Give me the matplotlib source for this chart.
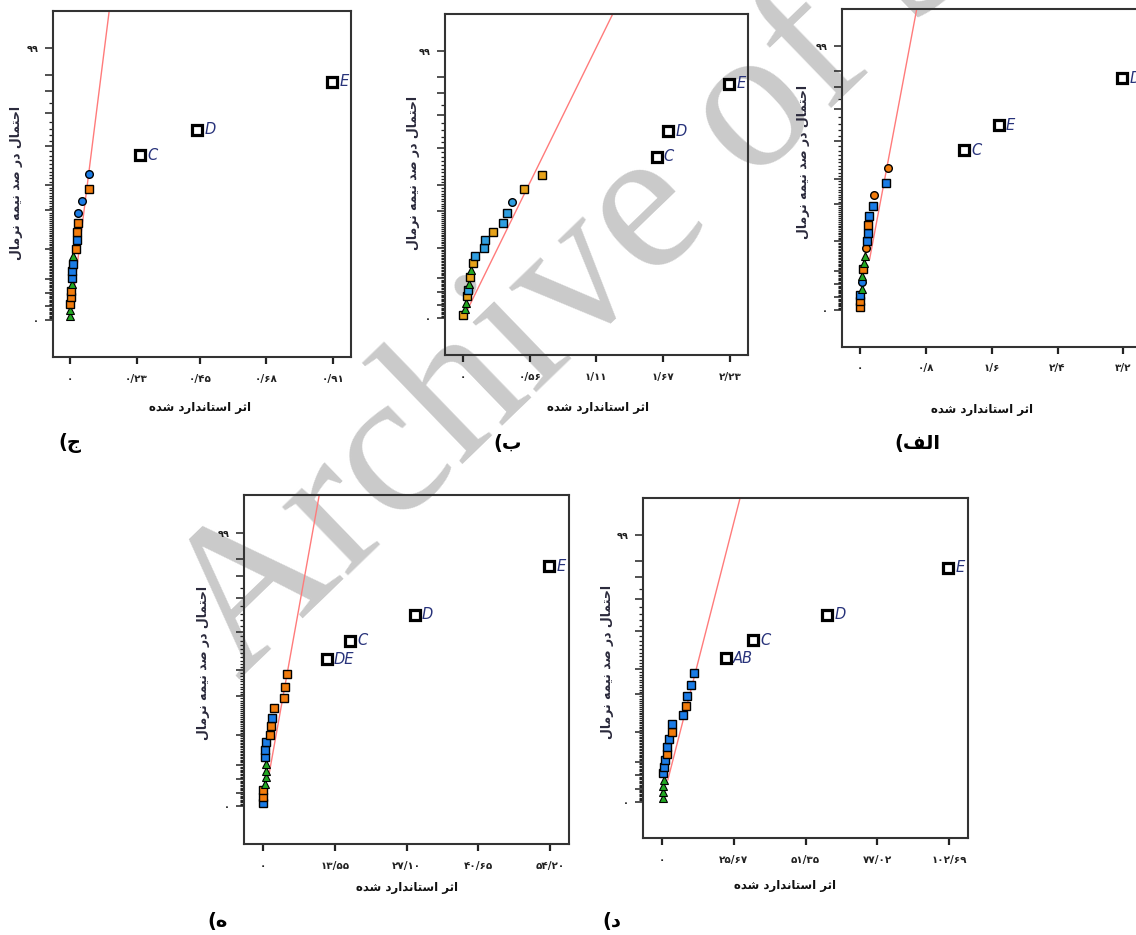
import matplotlib
matplotlib.use("Agg")
import matplotlib.pyplot as plt
from statistics import NormalDist

W, H = 1136, 935

# ---------------- داده‌ها (اثرها به ترتیب رتبه، از پایین به بالا) ----------------
# o: مربع نارنجی، b: مربع آبی، O: دایره نارنجی، B: دایره آبی، g: مثلث سبز، k: اثر معنی‌دار
alef_effects = [0.0, 0.0, 0.004, 0.02, 0.02, 0.03, 0.035, 0.053, 0.061, 0.073, 0.081,
                0.10, 0.101, 0.113, 0.154, 0.174, 0.316, 0.344, 1.268, 1.689, 3.187]
alef_kinds = "oobgBgoggObbobbObOkkk"
alef_names = ["C", "E", "D"]
alef_ticks = [0, 0.8, 1.6, 2.4, 3.2]
alef_ticklabels = ["0", "0/8", "1/6", "2/4", "3/2"]
alef_slope = 0.235

be_effects = [0.0, 0.014, 0.022, 0.033, 0.039, 0.05, 0.056, 0.061, 0.078, 0.095, 0.173,
              0.178, 0.251, 0.334, 0.362, 0.404, 0.507, 0.661, 1.617, 1.714, 2.224]
be_kinds = "oggobgogobbbobbBookkk"
be_names = ["C", "D", "E"]
be_ticks = [0, 0.56, 1.11, 1.67, 2.23]
be_ticklabels = ["0", "0/56", "1/11", "1/67", "2/23"]
be_slope = 0.426

jim_effects = [0.0, 0.0, 0.0, 0.002, 0.002, 0.005, 0.005, 0.007, 0.008, 0.010, 0.019,
               0.023, 0.023, 0.026, 0.026, 0.040, 0.065, 0.066, 0.242, 0.440, 0.908]
jim_kinds = "ggooogbbbgobooBBoBkkk"
jim_names = ["C", "D", "E"]
jim_ticks = [0, 0.23, 0.45, 0.68, 0.91]
jim_ticklabels = ["0", "0/23", "0/45", "0/68", "0/91"]
jim_slope = 0.046

he_effects = [0.0, 0.0, 0.0, 0.32, 0.44, 0.5, 0.5, 0.32, 0.38, 0.5, 1.26,
              1.39, 1.64, 2.02, 3.84, 4.10, 4.41, 11.97, 16.38, 28.67, 54.06]
he_kinds = "booggggbbboobooookkkk"
he_names = ["DE", "C", "D", "E"]
he_ticks = [0, 13.55, 27.10, 40.65, 54.20]
he_ticklabels = ["0", "13/55", "27/10", "40/65", "54/20"]
he_slope = 3.61

dal_effects = [0.1, 0.1, 0.36, 0.6, 0.4, 0.6, 0.96, 1.55, 1.79, 2.51, 3.3,
               3.3, 7.28, 8.36, 8.72, 10.15, 11.34, 22.8, 32.6, 59.1, 102.4]
dal_kinds = "ggggbbbobbobbobbbkkkk"
dal_names = ["AB", "C", "D", "E"]
dal_ticks = [0, 25.67, 51.35, 77.02, 102.69]
dal_ticklabels = ["0", "25/67", "51/35", "77/02", "102/69"]
dal_slope = 9.5

# درصدهای محور احتمال نیمه نرمال
major_pct = [0, 10, 20, 30, 50, 70, 80, 90, 95, 97, 98, 99]

# ---------------- شکل‌دهی متن فارسی (بدون کتابخانه جانبی) ----------------
FORMS = {
    "ا": ("\ufe8d", "\ufe8e", None, None),
    "ب": ("\ufe8f", "\ufe90", "\ufe91", "\ufe92"),
    "ت": ("\ufe95", "\ufe96", "\ufe97", "\ufe98"),
    "ث": ("\ufe99", "\ufe9a", "\ufe9b", "\ufe9c"),
    "ج": ("\ufe9d", "\ufe9e", "\ufe9f", "\ufea0"),
    "ح": ("\ufea1", "\ufea2", "\ufea3", "\ufea4"),
    "د": ("\ufea9", "\ufeaa", None, None),
    "ر": ("\ufead", "\ufeae", None, None),
    "س": ("\ufeb1", "\ufeb2", "\ufeb3", "\ufeb4"),
    "ش": ("\ufeb5", "\ufeb6", "\ufeb7", "\ufeb8"),
    "ص": ("\ufeb9", "\ufeba", "\ufebb", "\ufebc"),
    "ف": ("\ufed1", "\ufed2", "\ufed3", "\ufed4"),
    "ل": ("\ufedd", "\ufede", "\ufedf", "\ufee0"),
    "م": ("\ufee1", "\ufee2", "\ufee3", "\ufee4"),
    "ن": ("\ufee5", "\ufee6", "\ufee7", "\ufee8"),
    "ه": ("\ufee9", "\ufeea", "\ufeeb", "\ufeec"),
    "ی": ("\ufbfc", "\ufbfd", "\ufef3", "\ufef4"),
}


def shape_fa(text):
    out = []
    for i, ch in enumerate(text):
        if ch not in FORMS:
            out.append(ch)
            continue
        iso, fin, ini, med = FORMS[ch]
        prev = text[i - 1] if i > 0 else ""
        nxt = text[i + 1] if i + 1 < len(text) else ""
        jp = prev in FORMS and FORMS[prev][2] is not None
        jn = nxt in FORMS and ini is not None
        if jp and jn:
            out.append(med)
        elif jp:
            out.append(fin)
        elif jn:
            out.append(ini)
        else:
            out.append(iso)
    return "".join(reversed(out))


def fa_num(s):
    return s.translate(str.maketrans("0123456789", "۰۱۲۳۴۵۶۷۸۹"))


FA = ["DejaVu Sans"]
nd = NormalDist()


def hn(p):
    # موقعیت نیمه نرمال برای احتمال p (0..1)
    return nd.inv_cdf(0.5 + 0.5 * p)


def px(x, y):
    return x / W, 1 - y / H


fig = plt.figure(figsize=(W / 100, H / 100), dpi=100)
fig.patch.set_facecolor("white")

# واترمارک
fig.text(0.581, 0.781, "Archive of SID", rotation=44, rotation_mode="anchor",
         ha="center", va="center", fontsize=148, family="Liberation Serif",
         color="#cacaca", zorder=-5)


def draw_panel(box, xlim, effects, kinds, names, ticks, ticklabels, slope, z0,
               pal, xlab_pos, ylab_pos, tag_pos, tag):
    l, t, r, b = box
    ax = fig.add_axes([l / W, 1 - b / H, (r - l) / W, (b - t) / H])
    ax.set_facecolor("none")
    n = len(effects)
    z = [hn((i + 0.5) / n) for i in range(n)]

    ax.plot([slope * z0, slope * 3.5], [z0, 3.5], color="#ff7b7b", lw=1.0, zorder=1)

    k = 0
    for x, y, c in zip(effects, z, kinds):
        if c == "k":
            ax.plot(x, y, "s", ms=6.5, mfc="white", mec="black", mew=2.3, zorder=4)
            ax.annotate(names[k], (x, y), xytext=(5, 0), textcoords="offset points",
                        ha="left", va="center", fontsize=10.5, style="italic",
                        color="#27327a", annotation_clip=False)
            k += 1
        elif c == "g":
            ax.plot(x, y, "^", ms=6, mfc="#22a822", mec="black", mew=0.8, zorder=3)
        else:
            col = pal["o"] if c in "oO" else pal["b"]
            mk = "o" if c in "OB" else "s"
            ax.plot(x, y, mk, ms=5.5, mfc=col, mec="black", mew=1.0, zorder=3)

    ax.set_xlim(xlim)
    ax.set_ylim(-0.355, 2.93)
    ax.set_xticks(ticks)
    ax.set_xticklabels([fa_num(s) for s in ticklabels], fontsize=7.5,
                       fontweight="bold", family=FA)
    ax.set_yticks([hn(p / 100) for p in major_pct])
    ax.set_yticklabels([fa_num("0")] + [""] * (len(major_pct) - 2) + [fa_num("99")],
                       fontsize=7, fontweight="bold", family=FA)
    minor = [p for p in range(1, 97) if p not in major_pct]
    ax.set_yticks([hn(p / 100) for p in minor], minor=True)
    ax.tick_params(axis="x", direction="out", length=5, width=1.6, pad=7, colors="#222222")
    ax.tick_params(axis="y", which="major", direction="out", length=5.5, width=1.1,
                   pad=5, colors="#222222")
    ax.tick_params(axis="y", which="minor", direction="out", length=3, width=0.9,
                   colors="#222222")
    for sp in ax.spines.values():
        sp.set_color("#333333")
        sp.set_linewidth(1.5)

    fig.text(*px(*xlab_pos), shape_fa("اثر استاندارد شده"), ha="center", va="center",
             fontsize=8.5, fontweight="bold", family=FA, color="#111111")
    fig.text(*px(*ylab_pos), shape_fa("احتمال در صد نیمه نرمال"), ha="center",
             va="center", rotation=90, fontsize=9, fontweight="bold", family=FA,
             color="#2b2a3c")
    fig.text(*px(*tag_pos), "(" + shape_fa(tag), ha="center", va="center",
             fontsize=14, fontweight="bold", family=FA, color="black")
    return ax


pal_a = {"o": "#f27c0c", "b": "#1b7ce6"}
pal_b = {"o": "#e6a21a", "b": "#2f9ee0"}

draw_panel((53, 11, 351, 357), (-0.060, 0.973), jim_effects, jim_kinds, jim_names,
           jim_ticks, jim_ticklabels, jim_slope, 0.31, pal_a,
           (200, 407), (17, 183), (70, 443), "ج")
draw_panel((445, 14.3, 748.3, 355), (-0.153, 2.383), be_effects, be_kinds, be_names,
           be_ticks, be_ticklabels, be_slope, 0.0, pal_b,
           (598, 408), (413, 173), (508, 443), "ب")
draw_panel((842.3, 9.3, 1141.5, 346.7), (-0.215, 3.42), alef_effects, alef_kinds,
           alef_names, alef_ticks, alef_ticklabels, alef_slope, 0.5, pal_a,
           (982, 410), (803, 162), (917, 443), "الف")
draw_panel((244.3, 495, 569.3, 844), (-3.59, 57.84), he_effects, he_kinds, he_names,
           he_ticks, he_ticklabels, he_slope, 0.31, pal_a,
           (407, 888), (203, 663), (218, 922), "ه")
draw_panel((643.3, 498.3, 968.3, 838.3), (-6.8, 109.6), dal_effects, dal_kinds,
           dal_names, dal_ticks, dal_ticklabels, dal_slope, 0.21, pal_a,
           (785, 885), (607, 662), (612, 922), "د")

fig.savefig("out.png", dpi=100, facecolor="white")
